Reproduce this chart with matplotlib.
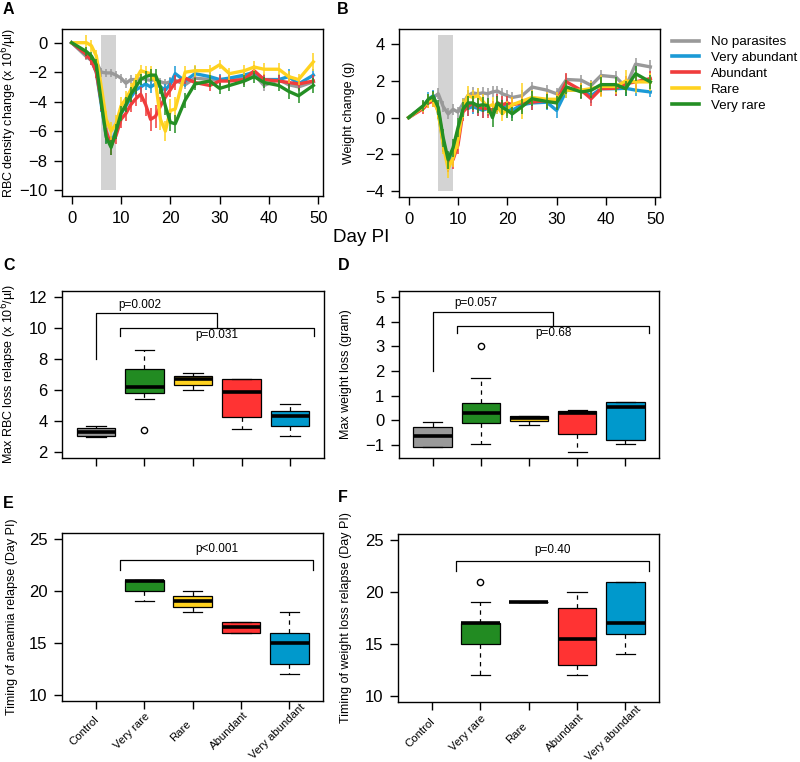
"""Anaemia and weight loss after infection, six panel figure (A-F)."""

import matplotlib

matplotlib.use("Agg")

import matplotlib.pyplot as plt
import numpy as np
from matplotlib.lines import Line2D

plt.rcParams["font.family"] = ["Liberation Sans", "DejaVu Sans"]

# ---- time series (panels A and B) ----
DAYS = [0, 3, 4, 5, 6, 7, 8, 9, 10, 11, 12, 13, 14, 15, 16, 17, 18, 19, 20, 21, 23, 25, 28, 30, 32, 35, 37, 39, 42, 44, 46, 49]
SERIES = ["No parasites", "Very abundant", "Abundant", "Rare", "Very rare"]
SERIES_COLORS = ["#999999", "#1B9AD6", "#F03C3C", "#FFD21F", "#248F24"]

A_GREY = [0, -0.95, -1.2, -1.3, -2.0, -2.05, -2.05, -2.2, -2.4, -2.75, -2.5, -2.5, -2.4, -2.5, -2.55, -2.5, -2.65, -2.75, -2.65, -2.55, -2.85, -2.4, -2.5, -2.55, -2.5, -2.35, -2.15, -2.9, -2.5, -2.85, -3.0, -2.65]
A_BLUE = [0, -0.8, -1.2, -2.0, -4.2, -6.3, -6.8, -6.0, -4.8, -4.3, -3.7, -3.2, -3.0, -2.8, -3.0, -2.8, -3.0, -3.2, -2.8, -2.1, -2.6, -2.1, -2.3, -2.5, -2.4, -2.2, -2.0, -2.5, -2.5, -2.3, -2.8, -2.2]
A_RED = [0, -0.8, -1.2, -2.0, -4.0, -6.0, -7.0, -6.3, -5.2, -4.8, -4.2, -3.8, -3.5, -4.2, -5.2, -5.0, -4.3, -3.7, -3.2, -2.7, -2.4, -2.7, -2.9, -2.6, -2.6, -2.5, -1.9, -2.5, -2.6, -2.7, -2.8, -2.6]
A_YELLOW = [0, 0.0, -0.2, -0.9, -3.0, -5.2, -6.0, -5.5, -4.3, -3.8, -3.2, -2.5, -1.9, -2.0, -2.1, -2.6, -5.2, -6.0, -4.6, -4.5, -2.0, -1.9, -1.9, -1.5, -2.1, -1.9, -1.65, -1.8, -1.8, -2.3, -2.5, -1.3]
A_GREEN = [0, -0.6, -0.9, -1.5, -4.0, -6.4, -7.1, -6.0, -4.8, -4.2, -3.5, -3.0, -2.5, -2.3, -2.2, -2.2, -3.0, -4.3, -5.4, -5.5, -3.9, -2.8, -2.6, -3.1, -2.9, -2.6, -2.3, -2.7, -2.9, -3.3, -3.6, -2.9]

A_GREY_ERR = [0, 0.2, 0.2, 0.2, 0.3, 0.3, 0.3, 0.25, 0.3, 0.35, 0.3, 0.25, 0.25, 0.25, 0.3, 0.3, 0.25, 0.3, 0.3, 0.25, 0.3, 0.3, 0.3, 0.3, 0.3, 0.3, 0.3, 0.35, 0.3, 0.3, 0.3, 0.3]
A_BLUE_ERR = [0, 0.2, 0.3, 0.4, 0.5, 0.5, 0.5, 0.5, 0.5, 0.5, 0.5, 0.4, 0.4, 0.4, 0.4, 0.4, 0.4, 0.4, 0.4, 0.5, 0.4, 0.5, 0.4, 0.4, 0.4, 0.4, 0.4, 0.4, 0.4, 0.5, 0.4, 0.4]
A_RED_ERR = [0, 0.3, 0.3, 0.4, 0.6, 0.6, 0.6, 0.6, 0.6, 0.5, 0.5, 0.5, 0.5, 0.8, 0.8, 0.8, 0.6, 0.6, 0.5, 0.5, 0.4, 0.4, 0.4, 0.4, 0.4, 0.4, 0.4, 0.4, 0.4, 0.4, 0.4, 0.4]
A_YELLOW_ERR = [0, 0.5, 0.4, 0.4, 0.5, 0.6, 0.6, 0.6, 0.6, 0.5, 0.5, 0.4, 0.4, 0.4, 0.5, 0.5, 0.7, 0.7, 0.8, 0.8, 0.4, 0.4, 0.4, 0.3, 0.4, 0.4, 0.4, 0.4, 0.4, 0.4, 0.4, 0.6]
A_GREEN_ERR = [0, 0.3, 0.3, 0.4, 0.5, 0.5, 0.5, 0.5, 0.5, 0.5, 0.5, 0.5, 0.4, 0.4, 0.4, 0.4, 0.5, 0.6, 0.6, 0.6, 0.5, 0.4, 0.4, 0.4, 0.4, 0.4, 0.4, 0.4, 0.4, 0.5, 0.5, 0.5]

B_GREY = [0, 0.6, 0.9, 1.1, 1.3, 0.6, 0.2, 0.45, 0.3, 0.75, 1.2, 1.35, 1.3, 1.35, 1.3, 1.4, 1.45, 1.3, 1.2, 1.1, 1.2, 1.67, 1.5, 1.3, 2.08, 2.04, 1.76, 2.3, 2.22, 1.67, 2.92, 2.77]
B_BLUE = [0, 0.6, 1.0, 1.2, 0.3, -1.4, -2.4, -2.0, -1.2, 0.6, 0.5, 0.6, 0.5, 0.4, 0.5, 0.4, 0.6, 0.6, 0.6, 0.4, 0.7, 0.8, 0.84, 0.39, 1.49, 1.49, 1.2, 1.58, 1.58, 1.6, 1.5, 1.4]
B_RED = [0, 0.5, 0.8, 0.9, 0.4, -1.3, -2.5, -2.3, -1.5, 0.3, 0.6, 0.8, 0.6, 0.5, 0.5, 0.4, 0.8, 0.7, 0.8, 0.7, 0.8, 0.84, 0.94, 0.9, 1.95, 1.49, 1.03, 1.58, 1.6, 1.85, 1.95, 2.13]
B_YELLOW = [0, 0.6, 0.9, 1.0, 0.3, -1.5, -2.8, -2.2, -1.2, 0.5, 1.2, 1.1, 1.2, 0.9, 0.6, 0.7, 0.6, 0.2, 0.5, 0.7, 0.9, 1.1, 1.0, 1.0, 1.49, 1.5, 1.58, 1.7, 1.7, 2.0, 1.95, 1.95]
B_GREEN = [0, 0.66, 1.0, 1.15, 0.55, -1.1, -2.3, -1.65, -0.55, 0.45, 0.8, 0.8, 0.65, 0.7, 0.65, 0.0, 0.8, 0.55, 0.4, 0.2, 0.6, 1.03, 0.88, 0.8, 1.67, 1.4, 1.49, 1.8, 1.8, 1.58, 2.4, 1.95]

B_GREY_ERR = [0, 0.2, 0.3, 0.3, 0.3, 0.3, 0.3, 0.3, 0.3, 0.3, 0.3, 0.3, 0.3, 0.3, 0.3, 0.3, 0.3, 0.3, 0.3, 0.3, 0.3, 0.3, 0.3, 0.3, 0.3, 0.3, 0.3, 0.3, 0.3, 0.3, 0.35, 0.35]
B_BLUE_ERR = [0, 0.3, 0.4, 0.3, 0.4, 0.5, 0.5, 0.5, 0.5, 0.4, 0.4, 0.4, 0.4, 0.4, 0.4, 0.4, 0.4, 0.4, 0.4, 0.4, 0.4, 0.4, 0.4, 0.4, 0.4, 0.4, 0.4, 0.4, 0.4, 0.4, 0.3, 0.3]
B_RED_ERR = [0, 0.3, 0.3, 0.3, 0.4, 0.5, 0.5, 0.5, 0.5, 0.5, 0.5, 0.5, 0.5, 0.5, 0.5, 0.5, 0.5, 0.5, 0.4, 0.4, 0.4, 0.4, 0.4, 0.4, 0.5, 0.4, 0.4, 0.4, 0.4, 0.4, 0.4, 0.4]
B_YELLOW_ERR = [0, 0.3, 0.4, 0.4, 0.4, 0.5, 0.5, 0.5, 0.5, 0.5, 0.5, 0.4, 0.4, 0.4, 0.4, 0.4, 0.4, 0.4, 0.4, 0.4, 1.0, 0.4, 0.4, 0.4, 0.4, 0.4, 0.4, 0.6, 0.4, 0.6, 0.6, 0.5]
B_GREEN_ERR = [0, 0.3, 0.3, 0.3, 0.4, 0.5, 0.5, 0.5, 0.5, 0.4, 0.4, 0.4, 0.4, 0.4, 0.4, 0.5, 0.4, 0.4, 0.4, 0.4, 0.4, 0.4, 0.4, 0.4, 0.4, 0.4, 0.4, 0.4, 0.4, 0.4, 0.4, 0.4]

SHADE_DAYS = (6, 9)
A_SHADE = (-10, 0.5)
B_SHADE = (-4, 4.5)

# ---- box plot summaries (panels C-F) ----
GROUPS = ["Control", "Very rare", "Rare", "Abundant", "Very abundant"]
BOX_COLORS = ["#999999", "#228B22", "#FFD21F", "#FF3333", "#0099CC"]

C_LO = [2.97, 5.42, 5.98, 3.46, 3.03]
C_Q1 = [3.05, 5.8, 6.3, 4.26, 3.66]
C_MED = [3.3, 6.2, 6.7, 5.87, 4.32]
C_Q3 = [3.55, 7.34, 6.9, 6.73, 4.63]
C_HI = [3.68, 8.6, 7.12, 6.73, 5.08]
C_OUT = [[], [3.4], [], [], []]

D_LO = [-1.08, -0.98, -0.18, -1.29, -0.98]
D_Q1 = [-1.08, -0.10, -0.04, -0.54, -0.79]
D_MED = [-0.65, 0.30, 0.10, 0.30, 0.54]
D_Q3 = [-0.27, 0.70, 0.18, 0.37, 0.72]
D_HI = [-0.09, 1.72, 0.18, 0.43, 0.72]
D_OUT = [[], [3.0], [], [], []]

E_LO = [None, 19, 18, 16, 12]
E_Q1 = [None, 20, 18.5, 16, 13]
E_MED = [None, 21, 19, 16.5, 15]
E_Q3 = [None, 21.1, 19.5, 17, 16]
E_HI = [None, 21.1, 20, 17, 18]
E_OUT = [[], [], [], [], []]

F_LO = [None, 12, 19, 12, 14]
F_Q1 = [None, 15, 19, 13, 16]
F_MED = [None, 17, 19, 15.5, 17]
F_Q3 = [None, 17, 19, 18.5, 21]
F_HI = [None, 19, 19, 20, 21]
F_OUT = [[], [21], [], [], []]

# brackets: (x_left, x_right, y_bar, y_left_end, y_right_end, label, label_x, label_y)
C_BRACKETS = [(1, 3.5, 11.0, 8.0, 10.0, "p=0.002", 1.9, 11.5), (1.5, 5.5, 10.0, 9.5, 9.5, "p=0.031", 3.5, 9.55)]
D_BRACKETS = [(1, 3.5, 4.4, 2.0, 3.82, "p=0.057", 1.9, 4.75), (1.5, 5.5, 3.82, 3.52, 3.52, "p=0.68", 3.5, 3.55)]
E_BRACKETS = [(1.5, 5.5, 23.0, 22.0, 22.0, "p<0.001", 3.5, 24.1)]
F_BRACKETS = [(1.5, 5.5, 23.0, 22.0, 22.0, "p=0.40", 3.5, 24.1)]

W, H = 800, 762
TICK_SIZE = 12
LABEL_SIZE = 9.0


def px_axes(fig, left, top, right, bottom):
    return fig.add_axes([left / W, 1 - bottom / H, (right - left) / W, (bottom - top) / H])


def style(ax):
    for s in ax.spines.values():
        s.set_linewidth(1.0)
    ax.tick_params(direction="out", length=6, width=1.0, labelsize=TICK_SIZE, pad=4.5)


def draw_series(ax, values, errors, shade):
    ax.fill_between(SHADE_DAYS, shade[0], shade[1], color="#D3D3D3", lw=0, zorder=0)
    for i in [1, 2, 3, 4, 0]:
        y = np.array(values[i]); e = np.array(errors[i])
        ax.vlines(DAYS, y - e, y + e, color=SERIES_COLORS[i], lw=1.1, zorder=2 + i * 0.1)
        ax.plot(DAYS, y, color=SERIES_COLORS[i], lw=2.4, zorder=2 + i * 0.1)
    ax.set_xlim(-1.96, 50.96)
    ax.set_xticks([0, 10, 20, 30, 40, 50])
    style(ax)


def draw_boxes(ax, lo, q1, med, q3, hi, outs, brackets, ylim, yticks):
    stats, pos, cols = [], [], []
    for i in range(len(GROUPS)):
        if med[i] is None:
            continue
        stats.append({"whislo": lo[i], "q1": q1[i], "med": med[i], "q3": q3[i], "whishi": hi[i], "fliers": outs[i]})
        pos.append(i + 1); cols.append(BOX_COLORS[i])
    bp = ax.bxp(stats, positions=pos, widths=0.8, patch_artist=True, capwidths=0.4,
                boxprops=dict(edgecolor="black", linewidth=0.9),
                medianprops=dict(color="black", linewidth=2.6, solid_capstyle="butt"),
                whiskerprops=dict(color="black", linewidth=0.9, linestyle=(0, (3.5, 3.5))),
                capprops=dict(color="black", linewidth=0.9),
                flierprops=dict(marker="o", markerfacecolor="none", markeredgecolor="black", markersize=4.5, markeredgewidth=1.0))
    for patch, c in zip(bp["boxes"], cols):
        patch.set_facecolor(c)
    for x0, x1, yb, y0, y1, lab, lx, ly in brackets:
        ax.plot([x0, x0, x1, x1], [y0, yb, yb, y1], color="black", lw=0.9)
        ax.text(lx, ly, lab, ha="center", va="center", fontsize=8.5)
    ax.set_xlim(0.3, 5.7)
    ax.set_ylim(*ylim)
    ax.set_yticks(yticks)
    ax.set_xticks(range(1, 6))
    ax.set_xticklabels([])
    style(ax)


def group_labels(ax, y_axes):
    # centred, 45 degree labels sitting a little left of each tick (as R's text(srt=45))
    for i, name in enumerate(GROUPS):
        ax.text(i + 1 - 0.25, y_axes, name, transform=ax.get_xaxis_transform(), rotation=45,
                ha="center", va="center", fontsize=8.2, clip_on=False)


fig = plt.figure(figsize=(W / 100, H / 100), dpi=100)

ax_a = px_axes(fig, 62, 29, 323, 196)
draw_series(ax_a, [A_GREY, A_BLUE, A_RED, A_YELLOW, A_GREEN],
            [A_GREY_ERR, A_BLUE_ERR, A_RED_ERR, A_YELLOW_ERR, A_GREEN_ERR], A_SHADE)
ax_a.set_ylim(-10.4, 0.93)
ax_a.set_yticks([0, -2, -4, -6, -8, -10])
ax_a.set_ylabel("RBC density change (x 10$^{6}$/µl)", fontsize=LABEL_SIZE)
ax_a.yaxis.set_label_coords(-0.165, 0.5)

ax_b = px_axes(fig, 399, 29, 660, 197)
draw_series(ax_b, [B_GREY, B_BLUE, B_RED, B_YELLOW, B_GREEN],
            [B_GREY_ERR, B_BLUE_ERR, B_RED_ERR, B_YELLOW_ERR, B_GREEN_ERR], B_SHADE)
ax_b.set_ylim(-4.34, 4.84)
ax_b.set_yticks([-4, -2, 0, 2, 4])
ax_b.set_ylabel("Weight change (g)", fontsize=LABEL_SIZE)
ax_b.yaxis.set_label_coords(-0.169, 0.5)

handles = [Line2D([], [], color=c, lw=2.6) for c in SERIES_COLORS]
ax_b.legend(handles, SERIES, loc="upper left", bbox_to_anchor=(672 / W, 1 - 36 / H),
            bbox_transform=fig.transFigure, frameon=False, fontsize=9.6, handlelength=2.0,
            handletextpad=0.95, labelspacing=0.26, borderpad=0, borderaxespad=0)

fig.text(333 / W, 1 - 237 / H, "Day PI", fontsize=13.5, ha="left", va="center")

ax_c = px_axes(fig, 62, 291, 324, 458)
draw_boxes(ax_c, C_LO, C_Q1, C_MED, C_Q3, C_HI, C_OUT, C_BRACKETS, (1.6, 12.4), [2, 4, 6, 8, 10, 12])
ax_c.set_ylabel("Max RBC loss relapse (x 10$^{6}$/µl)", fontsize=LABEL_SIZE)
ax_c.yaxis.set_label_coords(-0.165, 0.5)

ax_d = px_axes(fig, 399, 291, 659, 458)
draw_boxes(ax_d, D_LO, D_Q1, D_MED, D_Q3, D_HI, D_OUT, D_BRACKETS, (-1.53, 5.24), [-1, 0, 1, 2, 3, 4, 5])
ax_d.set_ylabel("Max weight loss (gram)", fontsize=LABEL_SIZE)
ax_d.yaxis.set_label_coords(-0.181, 0.5)

ax_e = px_axes(fig, 62, 533, 323, 701)
draw_boxes(ax_e, E_LO, E_Q1, E_MED, E_Q3, E_HI, E_OUT, E_BRACKETS, (9.4, 25.6), [10, 15, 20, 25])
ax_e.set_ylabel("Timing of aneamia relapse (Day PI)", fontsize=LABEL_SIZE)
ax_e.yaxis.set_label_coords(-0.168, 0.5)
group_labels(ax_e, -0.179)

ax_f = px_axes(fig, 398, 534, 659, 702)
draw_boxes(ax_f, F_LO, F_Q1, F_MED, F_Q3, F_HI, F_OUT, F_BRACKETS, (9.4, 25.6), [10, 15, 20, 25])
ax_f.set_ylabel("Timing of weight loss relapse (Day PI)", fontsize=LABEL_SIZE)
ax_f.yaxis.set_label_coords(-0.176, 0.5)
group_labels(ax_f, -0.185)

for lab, x, y in [("A", 3, 9), ("B", 337, 9), ("C", 3, 266), ("D", 338, 266), ("E", 3, 503), ("F", 338, 498)]:
    fig.text(x / W, 1 - y / H, lab, fontsize=11.5, fontweight="bold", ha="left", va="center")

fig.savefig("out.png", dpi=100)
